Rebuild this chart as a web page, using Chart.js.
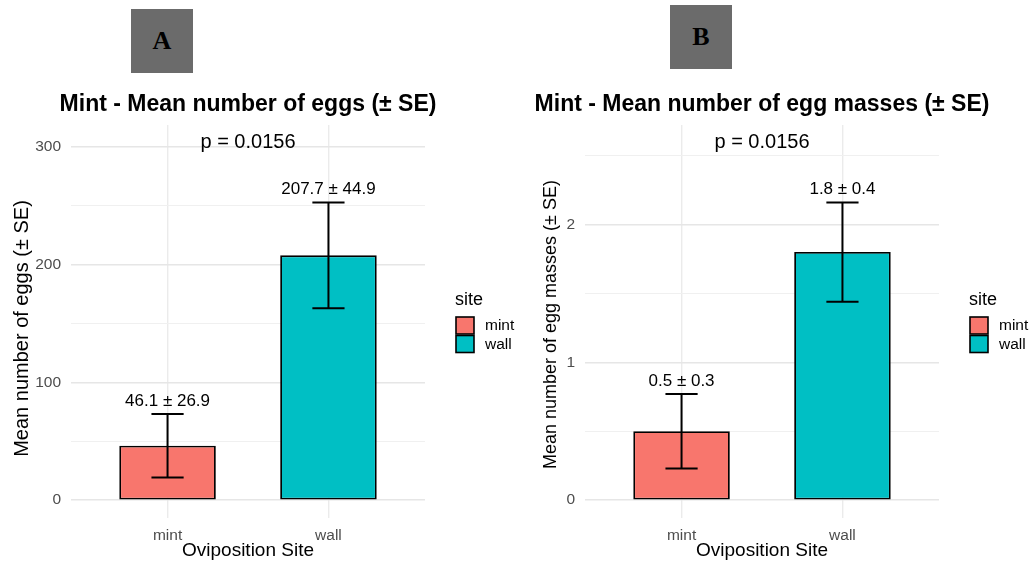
<!DOCTYPE html>
<html>
<head>
<meta charset="utf-8">
<script src="https://cdn.jsdelivr.net/npm/chart.js@4.4.1/dist/chart.umd.min.js"></script>
<style>
  body { margin: 0; background: #fff; width: 1034px; height: 564px; overflow: hidden; position: relative; }
  .panel { position: absolute; top: 0; }
  .tag { position: absolute; background: #6b6b6b; color: #000; font: bold 26px "Liberation Serif", "Times New Roman", serif;
         display: flex; align-items: center; justify-content: center; }
</style>
</head>
<body>
<div class="tag" style="left:131px;top:9px;width:62px;height:64px;">A</div>
<div class="tag" style="left:670px;top:5px;width:62px;height:64px;">B</div>
<div class="panel" style="left:0px;"><canvas id="eggs" width="517" height="564"></canvas></div>
<div class="panel" style="left:514px;"><canvas id="masses" width="520" height="564"></canvas></div>
<script>
// data
const sites = ['mint', 'wall'];
const siteColors = ['#F8766D', '#00BFC4'];
const sitePos = [0, 1];

const eggMeans = [46.1, 207.7];
const eggSE = [26.9, 44.9];
const eggP = 0.0156;
const eggMajor = [0, 100, 200, 300];
const eggGrid = [0, 50, 100, 150, 200, 250, 300];

const massMeans = [0.5, 1.8];
const massSE = [0.27, 0.36];
const massP = 0.0156;
const massMajor = [0, 1, 2];
const massGrid = [0, 0.5, 1, 1.5, 2, 2.5];

Chart.defaults.font.family = '"Liberation Sans", Arial, sans-serif';
Chart.defaults.color = '#000';

const FONT = '"Liberation Sans", Arial, sans-serif';

// error bars, value labels, p-value, titles and legend
const overlay = {
  id: 'overlay',
  afterDatasetsDraw(chart) {
    const o = chart.options.plugins.overlay;
    const { ctx, scales: { x, y } } = chart;
    ctx.save();
    o.means.forEach((m, i) => {
      const cx = x.getPixelForValue(sitePos[i]);
      const top = y.getPixelForValue(m + o.se[i]);
      const bot = y.getPixelForValue(m - o.se[i]);
      const l = x.getPixelForValue(sitePos[i] - 0.1);
      const r = x.getPixelForValue(sitePos[i] + 0.1);
      ctx.strokeStyle = '#000';
      ctx.lineWidth = 2;
      ctx.beginPath();
      ctx.moveTo(cx, top); ctx.lineTo(cx, bot);
      ctx.moveTo(l, top); ctx.lineTo(r, top);
      ctx.moveTo(l, bot); ctx.lineTo(r, bot);
      ctx.stroke();
      ctx.fillStyle = '#000';
      ctx.font = '17px ' + FONT;
      ctx.textAlign = 'center';
      ctx.textBaseline = 'alphabetic';
      ctx.fillText(m.toFixed(1) + ' \u00b1 ' + o.se[i].toFixed(1), cx, top - 8.5);
    });
    // p-value above the tallest error bar
    const pY = Math.max(...o.means.map((m, i) => m + o.se[i])) * 1.2;
    const midX = (chart.chartArea.left + chart.chartArea.right) / 2;
    ctx.font = '20px ' + FONT;
    ctx.textBaseline = 'middle';
    ctx.fillText('p = ' + o.p.toFixed(4), midX, y.getPixelForValue(pY));
    ctx.restore();
  },
  afterDraw(chart) {
    const o = chart.options.plugins.overlay;
    const { ctx, chartArea } = chart;
    const midX = (chartArea.left + chartArea.right) / 2;
    ctx.save();
    ctx.fillStyle = '#000';
    ctx.textAlign = 'center';
    ctx.textBaseline = 'alphabetic';
    ctx.font = 'bold 23px ' + FONT;
    ctx.fillText(o.title, midX, 110.5);

    // y axis title
    ctx.save();
    ctx.translate(o.yTitleX, (chartArea.top + chartArea.bottom) / 2 + o.yTitleShift);
    ctx.rotate(-Math.PI / 2);
    ctx.font = o.yTitleSize + 'px ' + FONT;
    ctx.textBaseline = 'middle';
    ctx.fillText(o.yTitle, 0, 0);
    ctx.restore();

    // legend
    const lx = chartArea.right + 30;
    ctx.textAlign = 'left';
    ctx.textBaseline = 'alphabetic';
    ctx.font = '18px ' + FONT;
    ctx.fillText('site', lx, 305);
    ctx.font = '15.5px ' + FONT;
    sites.forEach((s, i) => {
      const ky = 317 + i * 18.5;
      ctx.fillStyle = siteColors[i];
      ctx.fillRect(lx + 1, ky, 18, 17);
      ctx.strokeStyle = '#000';
      ctx.lineWidth = 1.6;
      ctx.strokeRect(lx + 1, ky, 18, 17);
      ctx.fillStyle = '#000';
      ctx.textBaseline = 'middle';
      ctx.fillText(s, lx + 30, ky + 9);
    });
    ctx.restore();
  }
};

function makePanel(id, means, se, p, major, grid, title, yTitle, yTitleSize, yTitleX, yTitleShift, padRight) {
  const top = Math.max(...means.map((m, i) => m + se[i])) * 1.2;
  const pad = top * 0.05;
  return new Chart(document.getElementById(id), {
    type: 'bar',
    data: {
      datasets: [{
        data: means.map((m, i) => ({ x: sitePos[i], y: m })),
        backgroundColor: siteColors,
        borderColor: '#000',
        borderWidth: 1.8,
        borderSkipped: false,
        barPercentage: 0.6,
        categoryPercentage: 1
      }]
    },
    options: {
      responsive: false,
      animation: false,
      layout: { padding: { left: 0, top: 125, right: padRight, bottom: 0 } },
      plugins: {
        legend: { display: false },
        tooltip: { enabled: false },
        overlay: { means, se, p, title, yTitle, yTitleSize, yTitleX, yTitleShift }
      },
      scales: {
        x: {
          type: 'linear',
          offset: false,
          min: -0.6,
          max: 1.6,
          afterBuildTicks: s => { s.ticks = sitePos.map(v => ({ value: v })); },
          afterFit: s => { s.height = 46; },
          ticks: { callback: (v, i) => sites[i], color: '#4d4d4d', font: { size: 15.5 }, padding: 8 },
          grid: { offset: false, color: '#ebebeb', lineWidth: 1.4, drawTicks: false },
          border: { display: false },
          title: { display: true, text: 'Oviposition Site', font: { size: 19 }, color: '#000', padding: { top: 0, bottom: 2 } }
        },
        y: {
          min: -pad,
          max: top + pad,
          afterBuildTicks: s => { s.ticks = grid.map(v => ({ value: v })); },
          afterFit: s => { s.width = 71; },
          ticks: {
            callback: v => (major.includes(v) ? String(v) : ''),
            color: '#4d4d4d', font: { size: 15.5 }, padding: 10
          },
          grid: {
            color: c => (major.includes(c.tick.value) ? '#e6e6e6' : '#f0f0f0'),
            lineWidth: c => (major.includes(c.tick.value) ? 1.4 : 1),
            drawTicks: false
          },
          border: { display: false }
        }
      }
    },
    plugins: [overlay]
  });
}

makePanel('eggs', eggMeans, eggSE, eggP, eggMajor, eggGrid,
  'Mint - Mean number of eggs (\u00b1 SE)', 'Mean number of eggs (\u00b1 SE)', 20, 22, 7, 92);
makePanel('masses', massMeans, massSE, massP, massMajor, massGrid,
  'Mint - Mean number of egg masses (\u00b1 SE)', 'Mean number of egg masses (\u00b1 SE)', 18, 37.5, 3, 95);
</script>
</body>
</html>
